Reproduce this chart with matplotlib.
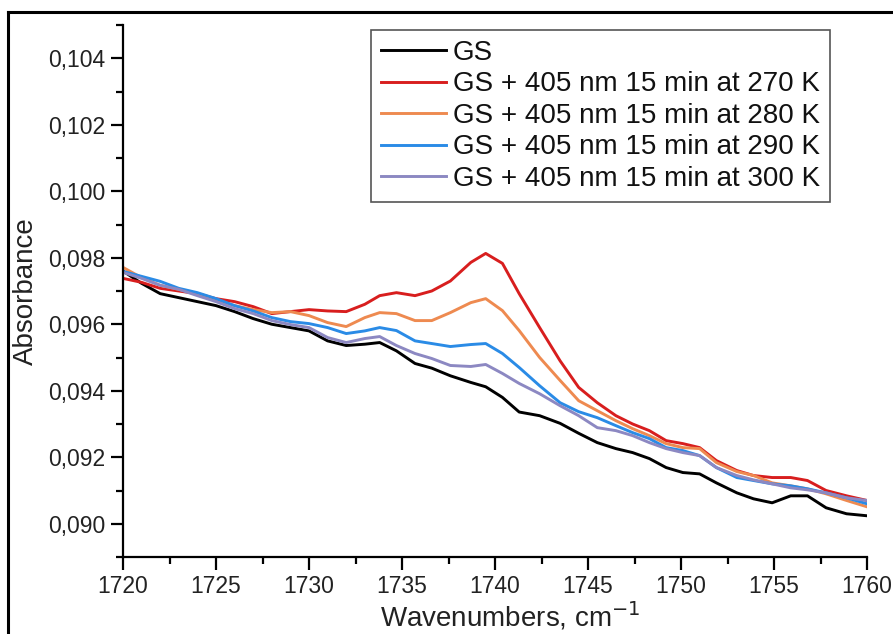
import matplotlib
matplotlib.use("Agg")
import matplotlib.pyplot as plt
from matplotlib.lines import Line2D
from matplotlib.ticker import MultipleLocator, FuncFormatter

plt.rcParams['font.family'] = ['Liberation Sans', 'DejaVu Sans']

wavenumbers = [1720, 1721, 1722, 1723, 1724, 1725, 1726, 1727, 1728, 1729, 1730, 1731, 1732, 1733,
               1733.8, 1734.7, 1735.7, 1736.6, 1737.6, 1738.7, 1739.5, 1740.4, 1741.3, 1742.4,
               1743.5, 1744.5, 1745.5, 1746.5, 1747.4, 1748.3, 1749.2, 1750.1, 1751.0, 1751.9,
               1753.0, 1753.9, 1754.9, 1755.9, 1756.8, 1757.8, 1758.9, 1760.0]

gs = [0.0976, 0.09723, 0.09692, 0.0968, 0.09668, 0.09656, 0.09638, 0.09617, 0.0960, 0.0959,
      0.0958, 0.0955, 0.09536, 0.0954,
      0.09545, 0.0952, 0.09482, 0.09468, 0.09445, 0.09425, 0.09412, 0.0938, 0.09336, 0.09325,
      0.09302, 0.09272, 0.09244, 0.09226, 0.09214, 0.09196, 0.09169, 0.09154, 0.0915, 0.09123,
      0.09093, 0.09075, 0.09063, 0.09084, 0.09084, 0.09048, 0.0903, 0.09024]

k270 = [0.09738, 0.09726, 0.09708, 0.0970, 0.09692, 0.09677, 0.09668, 0.09653, 0.09632, 0.09638,
        0.09644, 0.0964, 0.09638, 0.0966,
        0.09686, 0.09695, 0.09686, 0.0970, 0.0973, 0.09786, 0.09813, 0.09783, 0.09692, 0.0959,
        0.0949, 0.0941, 0.09364, 0.09325, 0.0930, 0.0928, 0.0925, 0.09241, 0.09229, 0.0919,
        0.0916, 0.09145, 0.09139, 0.09139, 0.0913, 0.0910, 0.09084, 0.0907]

k280 = [0.09771, 0.0974, 0.09717, 0.09705, 0.09692, 0.09671, 0.09656, 0.09644, 0.09635, 0.09638,
        0.09626, 0.09605, 0.09593, 0.0962,
        0.09635, 0.09632, 0.09611, 0.09611, 0.09635, 0.09665, 0.09677, 0.09641, 0.09581, 0.095,
        0.09431, 0.0937, 0.0934, 0.0931, 0.09286, 0.09265, 0.09241, 0.09229, 0.09226, 0.09184,
        0.09157, 0.09145, 0.09123, 0.09114, 0.09105, 0.0909, 0.0907, 0.09051]

k290 = [0.09759, 0.09744, 0.09729, 0.09708, 0.09695, 0.09677, 0.09656, 0.0964, 0.0962, 0.09608,
        0.09602, 0.0959, 0.09572, 0.0958,
        0.0959, 0.09581, 0.0955, 0.09542, 0.09533, 0.09539, 0.09542, 0.09512, 0.0947, 0.09415,
        0.09364, 0.09337, 0.09319, 0.09295, 0.09274, 0.09256, 0.09229, 0.0922, 0.09205, 0.09169,
        0.09139, 0.0913, 0.0912, 0.09114, 0.09105, 0.09093, 0.09078, 0.0906]

k300 = [0.09756, 0.09738, 0.09717, 0.09705, 0.09686, 0.09668, 0.09647, 0.09632, 0.09611, 0.09599,
        0.0959, 0.0956, 0.09545, 0.09557,
        0.09563, 0.09536, 0.09512, 0.09497, 0.09476, 0.09473, 0.09479, 0.09452, 0.09422, 0.09391,
        0.09355, 0.09325, 0.09289, 0.0928, 0.09265, 0.09244, 0.09226, 0.09214, 0.09205, 0.09169,
        0.09145, 0.09132, 0.0912, 0.09108, 0.09102, 0.09093, 0.09078, 0.0907]

labels = ["GS",
          "GS + 405 nm 15 min at 270 K",
          "GS + 405 nm 15 min at 280 K",
          "GS + 405 nm 15 min at 290 K",
          "GS + 405 nm 15 min at 300 K"]
series = [gs, k270, k280, k290, k300]
colors = ["#000000", "#d81e1e", "#ee8a50", "#2a8be6", "#8c88c2"]

W, H = 893, 634
fig = plt.figure(figsize=(W / 100, H / 100), dpi=100)
ax = fig.add_axes([123 / W, 1 - 557 / H, (867 - 123) / W, (557 - 25) / H])

for ys, c, lab in zip(series, colors, labels):
    ax.plot(wavenumbers, ys, color=c, lw=2.1, label=lab, solid_joinstyle='round')

ax.set_xlim(1720, 1760)
ax.set_ylim(0.089, 0.105)
ax.xaxis.set_major_locator(MultipleLocator(5))
ax.xaxis.set_minor_locator(MultipleLocator(2.5))
ax.yaxis.set_major_locator(MultipleLocator(0.002))
ax.yaxis.set_minor_locator(MultipleLocator(0.001))
ax.yaxis.set_major_formatter(FuncFormatter(lambda v, p: f"{v:.3f}".replace('.', ',')))

for s in ['top', 'right']:
    ax.spines[s].set_visible(False)
for s in ['left', 'bottom']:
    ax.spines[s].set_linewidth(1.6)

ax.tick_params(which='major', direction='out', length=9, width=1.6, labelsize=16.5, pad=4, colors='black')
ax.tick_params(which='minor', direction='out', length=5, width=1.6)
for t in ax.get_xticklabels() + ax.get_yticklabels():
    t.set_color('#222222')

ax.set_xlabel("Wavenumbers, cm$^{-1}$", fontsize=20, color='#222222')
ax.xaxis.set_label_coords(0.52, -0.08)
ax.set_ylabel("Absorbance", fontsize=20, labelpad=6, color='#222222')

leg = fig.legend(loc='upper left', bbox_to_anchor=(371 / W, 1 - 30 / H), borderaxespad=0,
                 fontsize=20, handlelength=2.35, handletextpad=0.25, labelspacing=0.2,
                 borderpad=0.35, fancybox=False, framealpha=1)
leg.get_frame().set_edgecolor('#555555')
leg.get_frame().set_linewidth(1.2)
for t in leg.get_texts():
    t.set_color('#111111')

# outer frame (left and top edges)
fig.add_artist(Line2D([8 / W, 8 / W], [0, 1 - 12 / H], color='black', lw=2.2, transform=fig.transFigure))
fig.add_artist(Line2D([8 / W, 1], [1 - 12 / H, 1 - 12 / H], color='black', lw=2.2, transform=fig.transFigure))

fig.savefig("out.png", dpi=100)
